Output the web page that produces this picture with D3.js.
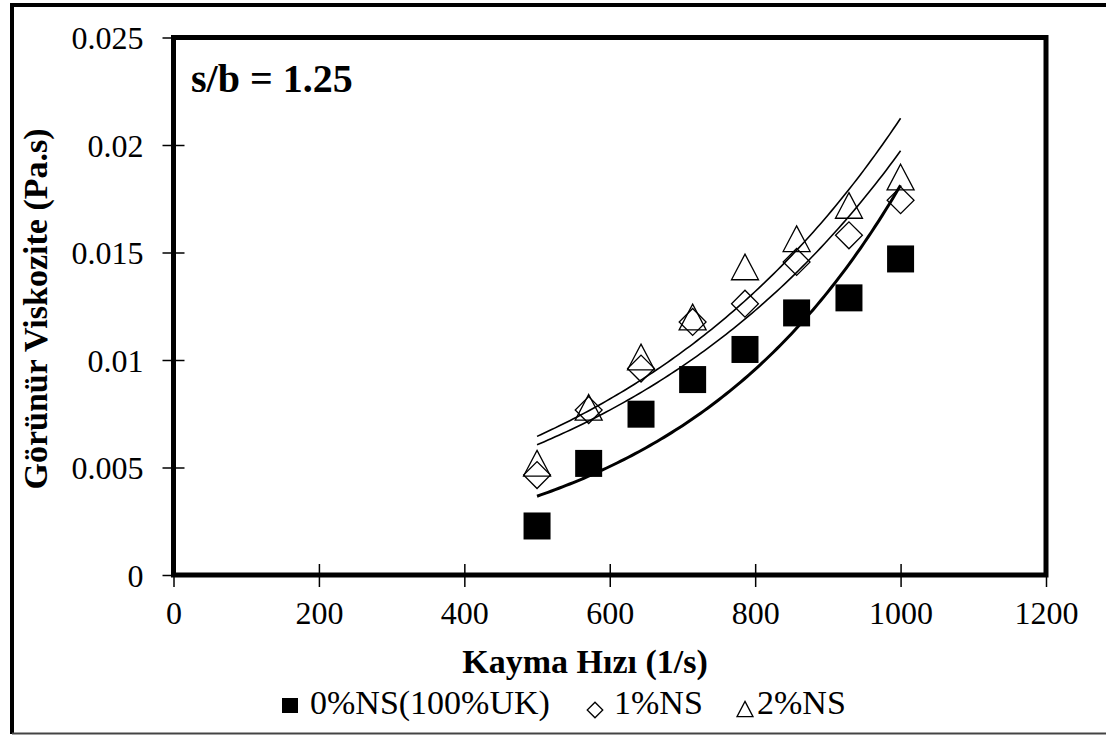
<!DOCTYPE html>
<html>
<head>
<meta charset="utf-8">
<script src="https://cdn.jsdelivr.net/npm/d3@7"></script>
<style>
  body { margin: 0; background: #fff; }
  svg text { font-family: "Liberation Serif", "Times New Roman", serif; fill: #000; }
</style>
</head>
<body>
<script>
// values
shearRates = [500, 571, 643, 714, 786, 857, 929, 1000];
ns0 = [0.00228, 0.00519, 0.00748, 0.00909, 0.01049, 0.01219, 0.01289, 0.0147];
ns1 = [0.00465, 0.00767, 0.0096, 0.01177, 0.01262, 0.01456, 0.0158, 0.01743];
ns2 = [0.0052, 0.0078, 0.01014, 0.012, 0.01433, 0.01564, 0.01719, 0.01851];
seriesNames = ["0%NS(100%UK)", "1%NS", "2%NS"];
xTicks = [0, 200, 400, 600, 800, 1000, 1200];
yTicks = [0, 0.005, 0.01, 0.015, 0.02, 0.025];

var W = 1106, H = 735;
var plotLeft = 173.5, plotTop = 37.5, plotRight = 1046, plotBottom = 575;

var svg = d3.select("body").append("svg")
    .attr("width", W)
    .attr("height", H);

// outer frame (cut on the right)
svg.append("line").attr("x1", 12).attr("x2", 12).attr("y1", 3).attr("y2", 734)
    .attr("stroke", "#000").attr("stroke-width", 4);
svg.append("line").attr("x1", 10).attr("x2", W).attr("y1", 5).attr("y2", 5)
    .attr("stroke", "#000").attr("stroke-width", 4);
svg.append("line").attr("x1", 12).attr("x2", W).attr("y1", 733.5).attr("y2", 733.5)
    .attr("stroke", "#444").attr("stroke-width", 2);

var x = d3.scaleLinear().domain([0, 1200]).range([plotLeft, plotRight]);
var y = d3.scaleLinear().domain([0, 0.025]).range([plotBottom, plotTop]);

// exponential trendline, same as the spreadsheet one (least squares on ln y)
function expFit(xs, ys) {
    var n = xs.length;
    var lx = d3.mean(xs), ly = d3.mean(ys.map(Math.log));
    var sxy = 0, sxx = 0;
    for (var i = 0; i < n; i++) {
        sxy += (xs[i] - lx) * (Math.log(ys[i]) - ly);
        sxx += (xs[i] - lx) * (xs[i] - lx);
    }
    var b = sxy / sxx;
    var a = Math.exp(ly - b * lx);
    return function(v) { return a * Math.exp(b * v); };
}

// axes
var xAxis = svg.append("g")
    .attr("transform", "translate(0," + plotBottom + ")")
    .call(d3.axisBottom(x).tickValues(xTicks).tickSize(12).tickPadding(14)
        .tickFormat(function(d) { return String(d); }));
xAxis.select(".domain").remove();
xAxis.selectAll(".tick line").attr("y1", -11).attr("y2", 12).attr("stroke-width", 1.5);
xAxis.selectAll(".tick text")
    .style("font-size", "32px")
    .attr("font-family", null);

var yAxis = svg.append("g")
    .attr("transform", "translate(" + plotLeft + ",0)")
    .call(d3.axisLeft(y).tickValues(yTicks).tickSize(11).tickPadding(19)
        .tickFormat(function(d) { return String(+d.toFixed(3)); }));
yAxis.select(".domain").remove();
yAxis.selectAll(".tick line").attr("x1", -11).attr("x2", 11).attr("stroke-width", 1.5);
yAxis.selectAll(".tick text")
    .style("font-size", "32px")
    .attr("dy", "0.35em")
    .attr("font-family", null);

// plot border
svg.append("rect")
    .attr("x", plotLeft).attr("y", plotTop)
    .attr("width", plotRight - plotLeft).attr("height", plotBottom - plotTop)
    .attr("fill", "none").attr("stroke", "#000").attr("stroke-width", 5);

// markers
var plot = svg.append("g");
var sq = 27;
plot.selectAll("rect.ns0").data(ns0).enter().append("rect")
    .attr("class", "ns0")
    .attr("x", function(d, i) { return x(shearRates[i]) - sq / 2; })
    .attr("y", function(d) { return y(d) - sq / 2; })
    .attr("width", sq).attr("height", sq)
    .attr("fill", "#000");

var diamond = d3.symbol().type(d3.symbolSquare).size(19 * 19);
plot.selectAll("path.ns1").data(ns1).enter().append("path")
    .attr("class", "ns1")
    .attr("d", diamond)
    .attr("transform", function(d, i) { return "translate(" + x(shearRates[i]) + "," + y(d) + ") rotate(45)"; })
    .attr("fill", "none").attr("stroke", "#000").attr("stroke-width", 1.3);

function tri(s) {
    var h = s * 0.95;
    return "M0," + (-h / 2) + "L" + (s / 2) + "," + (h / 2) + "L" + (-s / 2) + "," + (h / 2) + "Z";
}
plot.selectAll("path.ns2").data(ns2).enter().append("path")
    .attr("class", "ns2")
    .attr("d", tri(27))
    .attr("transform", function(d, i) { return "translate(" + x(shearRates[i]) + "," + y(d) + ")"; })
    .attr("fill", "none").attr("stroke", "#000").attr("stroke-width", 1.3);

// trendlines
var xs = d3.range(500, 1000.1, 5);
var line = d3.line().x(function(d) { return x(d[0]); }).y(function(d) { return y(d[1]); });
[[ns0, 3], [ns1, 1.6], [ns2, 1.6]].forEach(function(s) {
    var f = expFit(shearRates, s[0]);
    plot.append("path")
        .attr("d", line(xs.map(function(v) { return [v, f(v)]; })))
        .attr("fill", "none").attr("stroke", "#000").attr("stroke-width", s[1]);
});

// annotation
svg.append("text")
    .attr("x", 191).attr("y", 92)
    .style("font-size", "40px").style("font-weight", "bold")
    .text("s/b = 1.25");

// axis titles
svg.append("text")
    .attr("x", 585).attr("y", 673)
    .attr("text-anchor", "middle")
    .style("font-size", "34px").style("font-weight", "bold")
    .text("Kayma Hızı (1/s)");

svg.append("text")
    .attr("transform", "translate(47,309) rotate(-90)")
    .attr("text-anchor", "middle")
    .style("font-size", "34px").style("font-weight", "bold")
    .text("Görünür Viskozite (Pa.s)");

// legend
var lg = svg.append("g");
lg.append("rect").attr("x", 282).attr("y", 698).attr("width", 16).attr("height", 15).attr("fill", "#000");
lg.append("text").attr("x", 310).attr("y", 714).style("font-size", "34px").text(seriesNames[0]);
lg.append("path").attr("d", d3.symbol().type(d3.symbolSquare).size(11 * 11))
    .attr("transform", "translate(595,710) rotate(45)")
    .attr("fill", "none").attr("stroke", "#000").attr("stroke-width", 1.3);
lg.append("text").attr("x", 614).attr("y", 714).style("font-size", "34px").text(seriesNames[1]);
lg.append("path").attr("d", tri(16))
    .attr("transform", "translate(745,709)")
    .attr("fill", "none").attr("stroke", "#000").attr("stroke-width", 1.3);
lg.append("text").attr("x", 757).attr("y", 714).style("font-size", "34px").text(seriesNames[2]);
</script>
</body>
</html>
